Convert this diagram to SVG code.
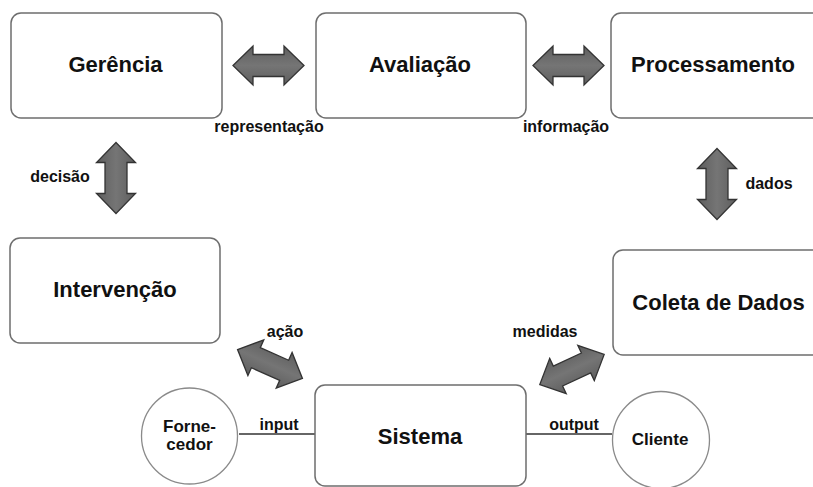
<svg xmlns="http://www.w3.org/2000/svg" width="813" height="487" viewBox="0 0 813 487">
<style>
.box{fill:#fff;stroke:#6e6e6e;stroke-width:1.5}
.circ{fill:#fff;stroke:#8a8a8a;stroke-width:1.3}
.t{font-family:"Liberation Sans",Arial,sans-serif;font-weight:bold;fill:#111;text-anchor:middle}
.big{font-size:22px}
.mid{font-size:17px}
.lbl{font-size:16px}
.arr{stroke:#333;stroke-width:1.3;stroke-linejoin:miter}
.line{stroke:#333;stroke-width:1.6}
</style>
<defs>
<linearGradient id="g" x1="0" y1="0" x2="0" y2="1">
<stop offset="0" stop-color="#5e5e5e"/>
<stop offset="0.5" stop-color="#757575"/>
<stop offset="1" stop-color="#5e5e5e"/>
</linearGradient>
<path id="dbl" d="M-35.5,0 L-15.5,-19.5 L-15.5,-11 L15.5,-11 L15.5,-19.5 L35.5,0 L15.5,19.5 L15.5,11 L-15.5,11 L-15.5,19.5 Z"/>
</defs>
<rect width="813" height="487" fill="#fff"/>
<g id="connectors">
<use href="#dbl" class="arr" style="fill:url(#g)" transform="translate(268.5,65.5)"/>
<use href="#dbl" class="arr" style="fill:url(#g)" transform="translate(568.5,65.5)"/>
<use href="#dbl" class="arr" style="fill:url(#g)" transform="translate(116,178) rotate(90)"/>
<use href="#dbl" class="arr" style="fill:url(#g)" transform="translate(717,184) rotate(90)"/>
<use href="#dbl" class="arr" style="fill:url(#g)" transform="translate(270,364) rotate(24)"/>
<use href="#dbl" class="arr" style="fill:url(#g)" transform="translate(572,369.5) rotate(-25)"/>
<line class="line" x1="239" y1="434" x2="315" y2="434"/>
<line class="line" x1="526" y1="434" x2="612" y2="434"/>
<text class="t lbl" x="269" y="132">representação</text>
<text class="t lbl" x="566" y="132">informação</text>
<text class="t lbl" x="60" y="182">decisão</text>
<text class="t lbl" x="769" y="189">dados</text>
<text class="t lbl" x="285" y="337">ação</text>
<text class="t lbl" x="545" y="337">medidas</text>
<text class="t lbl" x="279" y="430">input</text>
<text class="t lbl" x="574" y="430">output</text>
</g>
<g id="gerencia">
<rect class="box" x="11" y="13" width="211" height="105" rx="10"/>
<text class="t big" x="115.5" y="72">Gerência</text>
</g>
<g id="avaliacao">
<rect class="box" x="316" y="13" width="210" height="105" rx="10"/>
<text class="t big" x="420" y="72">Avaliação</text>
</g>
<g id="processamento">
<rect class="box" x="611" y="13" width="215" height="105" rx="10"/>
<text class="t big" x="713" y="72">Processamento</text>
</g>
<g id="intervencao">
<rect class="box" x="10" y="238" width="210" height="105" rx="10"/>
<text class="t big" x="115" y="297">Intervenção</text>
</g>
<g id="coleta">
<rect class="box" x="613" y="250" width="215" height="105" rx="10"/>
<text class="t big" x="718.5" y="310">Coleta de Dados</text>
</g>
<g id="sistema">
<rect class="box" x="315" y="385" width="211" height="101" rx="10"/>
<text class="t big" x="420" y="444">Sistema</text>
</g>
<g id="fornecedor">
<circle class="circ" cx="189.5" cy="436" r="48"/>
<text class="t mid" x="189.5" y="432">Forne-</text>
<text class="t mid" x="189.5" y="450">cedor</text>
</g>
<g id="cliente">
<circle class="circ" cx="661" cy="440" r="48.5"/>
<text class="t mid" x="660" y="445">Cliente</text>
</g>
</svg>
